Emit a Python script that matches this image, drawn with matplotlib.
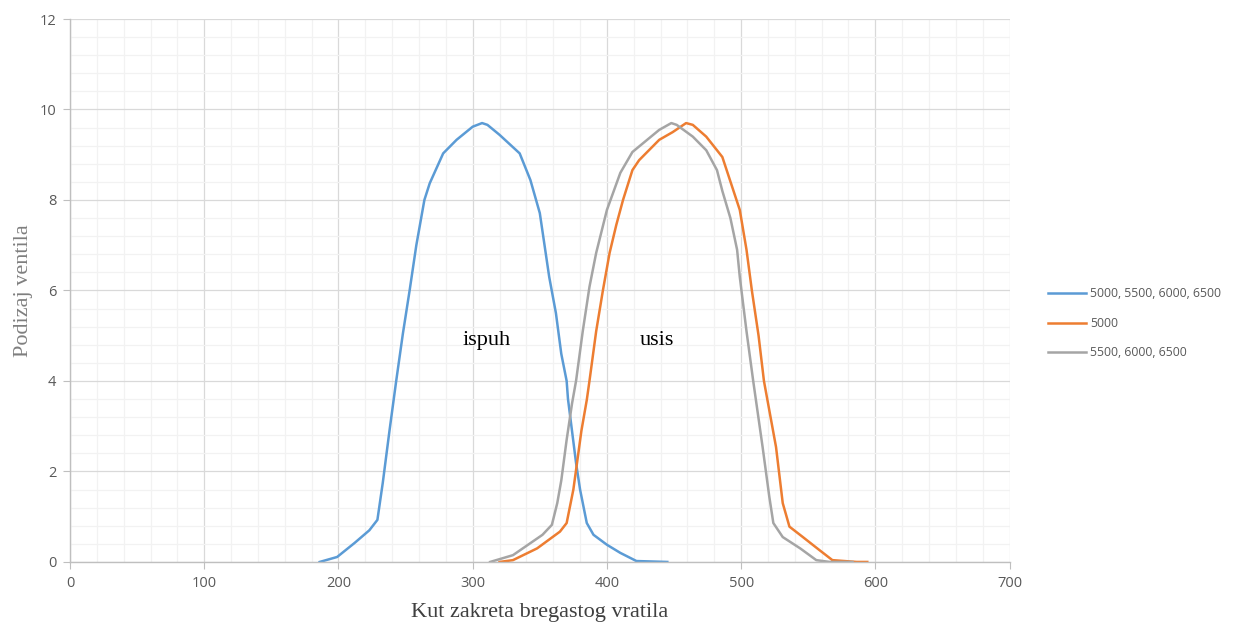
import matplotlib.pyplot as plt
import numpy as np
from matplotlib.ticker import MultipleLocator

# ispuh - 5000, 5500, 6000, 6500
kut_ispuh = [186, 199, 212, 223, 229, 233, 238, 243, 248, 253, 258, 264, 268, 278, 288, 300, 307,
             311, 320, 335, 343, 350, 357, 362, 366, 370, 371, 377, 380, 385, 390, 400,
             410, 422, 445]
dizaj_ispuh = [0.0, 0.11, 0.42, 0.7, 0.93, 1.75, 2.9, 4.0, 5.05, 6.0, 7.0, 8.0, 8.37, 9.03, 9.33, 9.62, 9.7,
               9.66, 9.44, 9.03, 8.44, 7.71, 6.3, 5.5, 4.6, 4.0, 3.6, 2.19, 1.6, 0.86, 0.6, 0.38,
               0.2, 0.02, 0.0]

# usis - 5000
kut_5000 = [320, 330, 348, 365, 370, 375, 377, 381, 385, 387, 392, 397, 402, 407, 412, 419, 424,
            439, 449, 459, 464, 474, 486, 491, 499, 504, 508, 513, 517, 526, 531, 536, 546, 558,
            568, 586, 594]
dizaj_5000 = [0.0, 0.04, 0.3, 0.67, 0.86, 1.6, 2.03, 2.9, 3.58, 4.0, 5.1, 6.0, 6.83, 7.45, 8.0, 8.66, 8.88,
              9.33, 9.5, 9.7, 9.66, 9.4, 8.95, 8.5, 7.78, 6.9, 6.0, 5.0, 4.0, 2.54, 1.3, 0.78, 0.55, 0.27,
              0.04, 0.0, 0.0]

# usis - 5500, 6000, 6500
kut_ostali = [313, 330, 352, 359, 363, 366, 370, 374, 377, 382, 387, 392, 400, 410, 419, 430,
              439, 448, 452, 464, 474, 482, 486, 492, 497, 499, 504, 509, 516, 521, 524, 531, 544,
              556, 566, 583]
dizaj_ostali = [0.0, 0.15, 0.6, 0.82, 1.3, 1.8, 2.7, 3.5, 4.0, 5.1, 6.08, 6.83, 7.78, 8.6, 9.06, 9.33,
                9.55, 9.7, 9.66, 9.4, 9.1, 8.66, 8.2, 7.6, 6.9, 6.3, 5.1, 4.0, 2.54, 1.44, 0.86, 0.55, 0.3,
                0.04, 0.0, 0.0]

fig = plt.figure(figsize=(12.51, 6.23), dpi=100)
ax = fig.add_axes([0.056, 0.098, 0.751, 0.8715])

ax.plot(kut_ispuh, dizaj_ispuh, color='#5b9bd5', lw=1.8, label='5000, 5500, 6000, 6500')
ax.plot(kut_5000, dizaj_5000, color='#ed7d31', lw=1.8, label='5000')
ax.plot(kut_ostali, dizaj_ostali, color='#a5a5a5', lw=1.8, label='5500, 6000, 6500')

ax.set_xlim(0, 700)
ax.set_ylim(0, 12)
ax.xaxis.set_major_locator(MultipleLocator(100))
ax.xaxis.set_minor_locator(MultipleLocator(20))
ax.yaxis.set_major_locator(MultipleLocator(2))
ax.yaxis.set_minor_locator(MultipleLocator(0.4))
ax.grid(which='major', color='#d9d9d9', lw=0.9)
ax.grid(which='minor', color='#f2f2f2', lw=0.9)
ax.set_axisbelow(True)

for s in ['top', 'right']:
    ax.spines[s].set_visible(False)
for s in ['left', 'bottom']:
    ax.spines[s].set_color('#bfbfbf')
    ax.spines[s].set_linewidth(1.0)
ax.tick_params(which='major', length=5, color='#bfbfbf', labelcolor='#595959',
               labelsize=10.5, pad=5)
ax.tick_params(which='minor', length=0)
for lab in ax.get_xticklabels() + ax.get_yticklabels():
    lab.set_fontfamily('Open Sans')

ax.set_xlabel('Kut zakreta bregastog vratila', fontfamily='Liberation Serif',
              fontsize=16, color='#404040', labelpad=9)
ax.set_ylabel('Podizaj ventila', fontfamily='Liberation Serif',
              fontsize=16, color='#7f7f7f')
ax.yaxis.set_label_coords(-0.039, 0.5)

ax.text(310, 4.9, 'ispuh', fontfamily='Liberation Serif', fontsize=16,
        ha='center', va='center', color='black')
ax.text(437, 4.9, 'usis', fontfamily='Liberation Serif', fontsize=16,
        ha='center', va='center', color='black')

leg = fig.legend(loc='center left', bbox_to_anchor=(0.829, 0.481), frameon=False,
                 prop={'family': 'Open Sans', 'size': 8.8}, handlelength=3.1,
                 handletextpad=0.33, labelspacing=1.35)
for t in leg.get_texts():
    t.set_color('#595959')

fig.savefig('out.png', dpi=100)
